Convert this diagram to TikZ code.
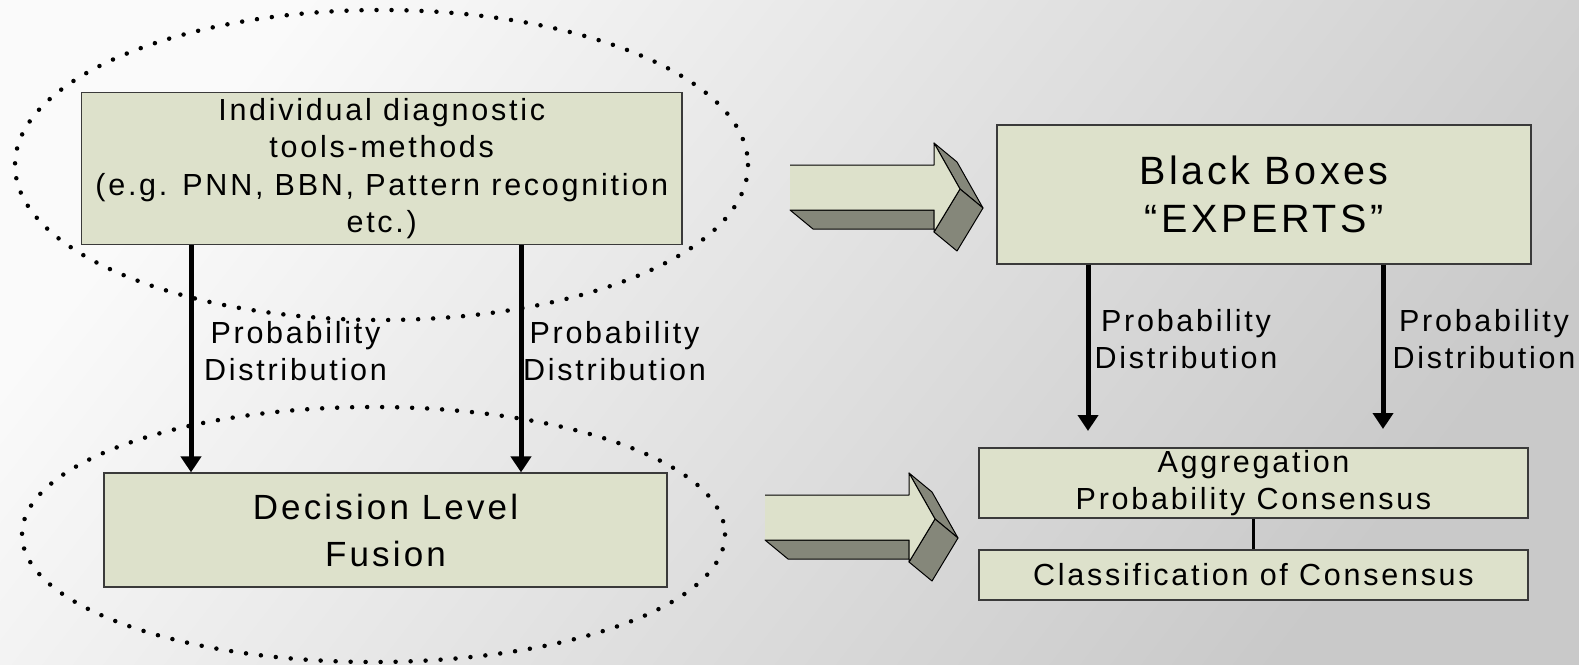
\documentclass[tikz,border=0pt]{standalone}
\usepackage{fontspec}
\setmainfont{Liberation Sans}[LetterSpace=9]
\usetikzlibrary{arrows.meta}
\definecolor{boxfill}{HTML}{DDE1CB}
\definecolor{boxline}{HTML}{3A3A3A}
\definecolor{dark3d}{HTML}{85877A}
\definecolor{bgA}{HTML}{FAFAFA}
\definecolor{bgB}{HTML}{C9C9C9}
\tikzset{
  box/.style={draw=boxline, line width=1.2pt, fill=boxfill, align=center, inner sep=0pt},
  small/.style={font=\fontsize{30.5}{37.5}\selectfont},
  arr/.style={line width=5pt, -{Triangle[width=20pt,length=16pt]}},
  dots/.style={line width=4.5pt, line cap=round, dash pattern=on 0pt off 15pt},
  lbl/.style={small, align=center, inner sep=0pt},
  face/.style={fill=boxfill},
  faceline/.style={draw=black, line width=1pt, line join=round},
  side/.style={fill=dark3d, draw=black, line width=1pt, line join=round},
}
\newcommand{\threedarrow}[2]{%
  \begin{scope}[shift={(#1,#2)}]
    \filldraw[side] (0,45) -- (144,45) -- (144,64) -- (23,64) -- cycle;
    \filldraw[side] (144,-22) -- (167,-3) -- (193,43) -- (170,24) -- cycle;
    \filldraw[side] (144,67) -- (170,24) -- (193,43) -- (167,86) -- cycle;
    \fill[face] (0,0) -- (144,0) -- (144,-22) -- (170,24) -- (144,67) -- (144,45) -- (0,45) -- cycle;
    \draw[faceline] (0,0) -- (144,0) -- (144,-22) -- (170,24) -- (144,67) -- (144,45) -- (0,45);
  \end{scope}}
\begin{document}
\begin{tikzpicture}[x=1pt,y=-1pt]
\shade[top color=bgA, bottom color=bgB, shading angle=52] (0,0) rectangle (1579,664);
\useasboundingbox (0,0) rectangle (1579,664);

\draw[dots] (381.5,165) ellipse [x radius=366.5, y radius=155];
\draw[dots] (373.5,534.5) ellipse [x radius=351.5, y radius=127.5];

\node[box, small, minimum width=600.5pt, minimum height=152pt] (tools) at (381.75,168.65)
  {Individual diagnostic\\tools-methods\\(e.g. PNN, BBN, Pattern recognition\\etc.)};
\node[box, font=\fontsize{35}{47}\selectfont, minimum width=563pt, minimum height=114pt] (fusion) at (385.5,530)
  {Decision Level\\Fusion};
\node[box, font=\fontsize{39.5}{48.5}\selectfont, minimum width=534pt, minimum height=139pt] (experts) at (1264,194.5)
  {Black Boxes\\“EXPERTS”};
\node[box, small, minimum width=549pt, minimum height=70pt] (agg) at (1253.5,483)
  {Aggregation\\Probability Consensus};
\node[box, small, minimum width=549pt, minimum height=50pt] (cls) at (1253.5,575)
  {Classification of Consensus};

\coordinate (xa) at (191,0);
\coordinate (xb) at (521,0);
\coordinate (ea) at (1088,431);
\coordinate (eb) at (1383,429);

\draw[arr] (tools.south -| xa) -- (fusion.north -| xa);
\draw[arr] (tools.south -| xb) -- (fusion.north -| xb);
\draw[arr] (experts.south -| ea) -- (ea);
\draw[arr] (experts.south -| eb) -- (eb);
\draw[line width=2.5pt] (agg.south) -- (cls.north);

\node[lbl] (l1) at (295.5,351) {Probability\\Distribution};
\node[lbl] (l2) at (614.5,351) {Probability\\Distribution};
\node[lbl] (l3) at (1186,339) {Probability\\Distribution};
\node[lbl] (l4) at (1484,339) {Probability\\Distribution};

\threedarrow{790}{165}
\threedarrow{765}{495}
\end{tikzpicture}
\end{document}
